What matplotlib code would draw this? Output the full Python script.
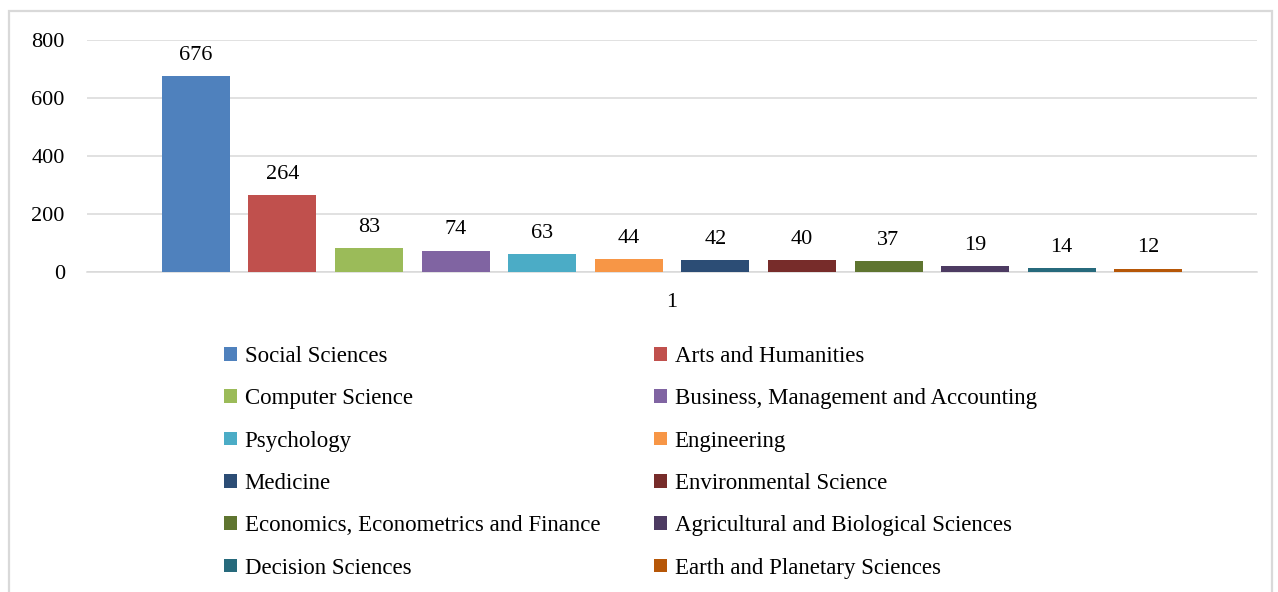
import numpy as np
import matplotlib
matplotlib.use("Agg")
import matplotlib.pyplot as plt
from matplotlib.patches import Rectangle, Patch

plt.rcParams["font.family"] = ["Liberation Serif", "DejaVu Serif"]

# subject areas and document counts
subjects = [
    "Social Sciences", "Arts and Humanities", "Computer Science",
    "Business, Management and Accounting", "Psychology", "Engineering",
    "Medicine", "Environmental Science", "Economics, Econometrics and Finance",
    "Agricultural and Biological Sciences", "Decision Sciences",
    "Earth and Planetary Sciences",
]
counts = [676, 264, 83, 74, 63, 44, 42, 40, 37, 19, 14, 12]
colors = [
    "#4F81BD", "#C0504D", "#9BBB59", "#8064A2", "#4BACC6", "#F79646",
    "#2C4D75", "#772C2A", "#5F7530", "#4D3B62", "#276A7C", "#B65708",
]
category = ["1"]
yticks = [0, 200, 400, 600, 800]

FS = 16
LFS = 16.5
W, H = 1278, 592
fig = plt.figure(figsize=(W / 100, H / 100), dpi=100)
ax = fig.add_axes([87 / W, 1 - 272 / H, (1257 - 87) / W, (272 - 40) / H])

n = len(counts)
pitch = 86.6 / 1170
bar_w = 68 / 1170
offsets = (np.arange(n) - (n - 1) / 2) * pitch

for i in range(n):
    ax.bar(offsets[i], counts[i], width=bar_w, color=colors[i],
           label=subjects[i], zorder=3)
    ax.annotate(str(counts[i]), (offsets[i], counts[i]), xytext=(0, 8),
                textcoords="offset points", ha="center", va="bottom",
                fontsize=FS)

ax.set_xlim(-0.5, 0.5)
ax.set_ylim(0, 800)
ax.set_yticks(yticks)
ax.set_xticks([0])
ax.set_xticklabels(category)
ax.tick_params(axis="y", length=0, pad=16, labelsize=FS)
ax.tick_params(axis="x", length=0, pad=15, labelsize=FS)
ax.grid(axis="y", color="#D9D9D9", linewidth=1.1, zorder=0)
for s in ["top", "right", "left"]:
    ax.spines[s].set_visible(False)
ax.spines["bottom"].set_color("#D9D9D9")
ax.spines["bottom"].set_linewidth(1.1)

# legend in two columns, row-wise order like the original
handles = [Patch(facecolor=c) for c in colors]
kw = dict(frameon=False, fontsize=LFS, handlelength=0.55, handleheight=0.55,
          handletextpad=0.35, labelspacing=0.93, borderpad=0, borderaxespad=0,
          loc="upper left")
leg1 = fig.legend(handles[0::2], subjects[0::2],
                  bbox_to_anchor=(224 / W, 1 - 346 / H), **kw)
leg2 = fig.legend(handles[1::2], subjects[1::2],
                  bbox_to_anchor=(654 / W, 1 - 346 / H), **kw)

# outer chart border
fig.patches.append(Rectangle((9 / W, -0.05), (1272 - 9) / W, 1.05 - 11 / H,
                             transform=fig.transFigure, fill=False,
                             edgecolor="#D9D9D9", linewidth=1.6))

fig.savefig("out.png", dpi=100)
